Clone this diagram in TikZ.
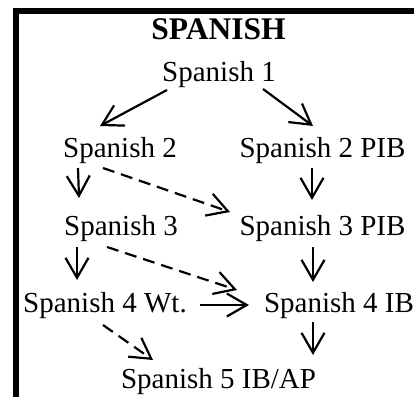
\documentclass[tikz,border=0pt]{standalone}
\usepackage{fontspec}
\setmainfont{Liberation Serif}
\usetikzlibrary{arrows.meta}

\begin{document}
\begin{tikzpicture}[x=1pt,y=1pt,
        every node/.style={anchor=base,inner sep=0pt,font=\fontsize{29}{34}\selectfont},
        arr/.style={-{Straight Barb[length=20pt,width=23pt]},line width=2.2pt},
        dasharr/.style={arr,dash pattern=on 12pt off 7pt}]
        \useasboundingbox (0,0) rectangle (414,397);
        % frame
        \draw[line width=6pt,line join=miter] (16,0) -- (16,386) -- (414,386);
        % title
        \node[font=\fontsize{31.5}{36}\selectfont\bfseries] (title) at (218.5,357) {SPANISH};
        % courses
        \node (s1) at (219,316) {Spanish 1};
        \node (s2) at (120,240) {Spanish 2};
        \node (s2pib) at (322.5,240) {Spanish 2 PIB};
        \node (s3) at (121,162) {Spanish 3};
        \node (s3pib) at (322.5,162) {Spanish 3 PIB};
        \node (s4wt) at (105,85) {Spanish 4 Wt.};
        \node (s4ib) at (339,85) {Spanish 4 IB};
        \node (s5) at (218.5,9) {Spanish 5 IB/AP};
        % solid arrows
        \draw[arr] ([shift={(-52,-9)}]s1.base) -- ([shift={(-20,31)}]s2.base);
        \draw[arr] ([shift={(44,-8)}]s1.base) -- ([shift={(-9.5,31)}]s2pib.base);
        \draw[arr] ([shift={(-42,-11)}]s2.base) -- ([shift={(-42,37)}]s3.base);
        \draw[arr] ([shift={(-10.5,-11)}]s2pib.base) -- ([shift={(-10.5,35)}]s3pib.base);
        \draw[arr] ([shift={(-44,-12)}]s3.base) -- ([shift={(-28,32)}]s4wt.base);
        \draw[arr] ([shift={(-9.5,-12)}]s3pib.base) -- ([shift={(-26,30)}]s4ib.base);
        \draw[arr] ([shift={(95,7)}]s4wt.base) -- ([shift={(-90,7)}]s4ib.base);
        \draw[arr] ([shift={(-26,-10)}]s4ib.base) -- ([shift={(94.5,33)}]s5.base);
        % dashed arrows
        \draw[dasharr] ([shift={(-17,-11)}]s2.base) -- ([shift={(-92.5,23)}]s3pib.base);
        \draw[dasharr] ([shift={(-14,-12)}]s3.base) -- ([shift={(-102,22)}]s4ib.base);
        \draw[dasharr] ([shift={(-2,-13)}]s4wt.base) -- ([shift={(-65.5,28)}]s5.base);
\end{tikzpicture}
\end{document}
